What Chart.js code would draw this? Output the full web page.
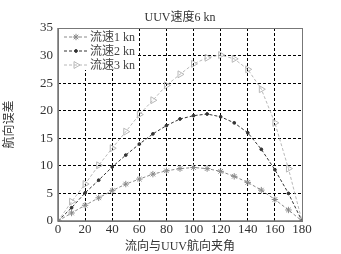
<!DOCTYPE html>
<html><head><meta charset="utf-8">
<script src="https://cdn.jsdelivr.net/npm/chart.js@4/dist/chart.umd.min.js"></script>
<style>html,body{margin:0;padding:0;background:#fff}#wrap{width:341px;height:254px}</style>
</head><body><div id="wrap"><canvas id="c" width="341" height="254"></canvas></div>
<script>
const angles = [0,10,20,30,40,50,60,70,80,90,100,110,120,130,140,150,160,170,180];
const flow1 = [0,1.45,2.85,4.2,5.5,6.7,7.6,8.5,9.1,9.5,9.7,9.5,9.0,8.1,7.0,5.6,3.9,2.0,0];
const flow2 = [0,2.4,5.1,7.4,9.8,11.95,13.95,15.8,17.3,18.5,19.1,19.4,18.9,17.8,16.0,13.0,9.3,5.0,0];
const flow3 = [0,3.5,6.7,10.1,13.2,16.2,19.3,21.9,24.6,26.6,28.5,29.6,30.1,29.4,27.5,23.9,17.8,9.5,0];
const seriesNames = ['流速1 kn','流速2 kn','流速3 kn'];
const xTicks = [0,20,40,60,80,100,120,140,160,180];
const yTicks = [0,5,10,15,20,25,30,35];
const titleText = 'UUV速度6 kn';
const xTitle = '流向与UUV航向夹角';
const yTitle = '航向误差';

const FONT = "'Liberation Serif','Noto Sans CJK SC',serif";
const mk = (arr) => angles.map((a,i)=>({x:a,y:arr[i]}));
const styles = [
  {color:'#8a8a8a', pointStyle:'star', r:3.2, bg:'#8a8a8a', rot:0},
  {color:'#333333', pointStyle:'circle', r:1.4, bg:'#333333', rot:0},
  {color:'#b8b8b8', pointStyle:'triangle', r:4, bg:'rgba(0,0,0,0)', rot:90}
];
const datas = [flow1, flow2, flow3];
const datasets = datas.map((d,i)=>({
  label: seriesNames[i], data: mk(d),
  borderColor: styles[i].color, backgroundColor: styles[i].bg,
  borderWidth: 1, borderDash: [3,2],
  pointStyle: styles[i].pointStyle, pointRadius: styles[i].r, pointRotation: styles[i].rot,
  pointBorderColor: styles[i].color, pointBackgroundColor: styles[i].bg, pointBorderWidth: 1,
  tension: 0, fill: false
}));

const deco = {
  id:'deco',
  afterDatasetsDraw(chart){
    const ctx = chart.ctx, a = chart.chartArea;
    ctx.save();
    // legend
    ctx.fillStyle = '#fff';
    ctx.fillRect(a.left+1, a.top+1, 78, 41);
    const ys = [a.top+9, a.top+23, a.top+37];
    datasets.forEach((ds,i)=>{
      const y = ys[i];
      ctx.strokeStyle = ds.borderColor; ctx.lineWidth = 1; ctx.setLineDash([3,2]);
      ctx.beginPath(); ctx.moveTo(a.left+6, y); ctx.lineTo(a.left+29, y); ctx.stroke();
      ctx.setLineDash([]);
      ctx.fillStyle = ds.pointBackgroundColor; ctx.strokeStyle = ds.pointBorderColor; ctx.lineWidth = 1;
      Chart.helpers.drawPoint(ctx, {pointStyle: ds.pointStyle, radius: ds.pointRadius, rotation: ds.pointRotation, borderWidth:1}, a.left+18, y);
      ctx.font = '12px ' + FONT;
      ctx.textBaseline = 'middle';
      ctx.fillStyle = '#444';
      ctx.textAlign = 'left';
      ctx.fillText(ds.label, a.left+32, y+1);
    });
    // border
    ctx.strokeStyle = '#777'; ctx.lineWidth = 1; ctx.setLineDash([]);
    ctx.strokeRect(a.left+0.5, a.top+0.5, a.right-a.left, a.bottom-a.top);
    ctx.lineWidth = 1.5;
    ctx.beginPath(); ctx.moveTo(a.left, a.top); ctx.lineTo(a.left, a.bottom); ctx.lineTo(a.right, a.bottom); ctx.stroke();
    ctx.restore();
  },
  afterDraw(chart){
    const ctx = chart.ctx, a = chart.chartArea;
    ctx.save();
    ctx.font = '12px ' + FONT; ctx.fillStyle = '#333';
    ctx.textAlign = 'center'; ctx.textBaseline = 'middle';
    ctx.fillText(titleText, (a.left+a.right)/2, 18);
    ctx.restore();
  }
};

new Chart(document.getElementById('c'), {
  type:'line',
  data:{datasets},
  options:{
    responsive:false, animation:false, devicePixelRatio:1,
    layout:{padding:{left:0,right:39,top:28,bottom:0}},
    plugins:{legend:{display:false}, title:{display:false}, tooltip:{enabled:false}},
    scales:{
      x:{type:'linear', min:0, max:180,
        afterBuildTicks: s => { s.ticks = xTicks.map(v=>({value:v})); },
        afterFit: s => { s.height = 33; },
        ticks:{font:{family:FONT,size:13}, color:'#333', padding:1, maxRotation:0, autoSkip:false},
        grid:{color:'#000', lineWidth:1, drawTicks:false},
        border:{display:false, dash:[3,2]},
        title:{display:true, text:xTitle, font:{family:FONT,size:12}, color:'#333', padding:{top:0,bottom:0}}
      },
      y:{type:'linear', min:0, max:35,
        afterBuildTicks: s => { s.ticks = yTicks.map(v=>({value:v})); },
        afterFit: s => { s.width = 58; },
        ticks:{font:{family:FONT,size:13}, color:'#333', padding:5, autoSkip:false},
        grid:{color:'#000', lineWidth:1, drawTicks:false},
        border:{display:false, dash:[3,2]},
        title:{display:true, text:yTitle, font:{family:FONT,size:12}, color:'#333', padding:{top:3,bottom:8}}
      }
    }
  },
  plugins:[deco]
});
</script></body></html>
